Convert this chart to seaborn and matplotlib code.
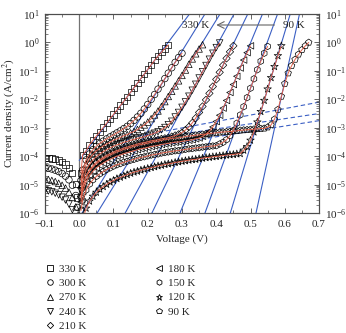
import numpy as np
import pandas as pd
import matplotlib
matplotlib.use("Agg")
import matplotlib.pyplot as plt
import seaborn as sns
from matplotlib.lines import Line2D
from matplotlib.ticker import LogLocator, MultipleLocator, FuncFormatter, NullFormatter

sns.set_theme(style="ticks")
plt.rcParams["font.family"] = ["Liberation Serif", "DejaVu Serif"]
plt.rcParams["mathtext.fontset"] = "stix"

# forward-bias voltage grid (V)
voltage = [0.005, 0.01, 0.02, 0.03, 0.04, 0.05, 0.06, 0.07, 0.08, 0.09, 0.10,
           0.11, 0.12, 0.13, 0.14, 0.15, 0.16, 0.17, 0.18, 0.19, 0.20,
           0.21, 0.22, 0.23, 0.24, 0.25, 0.26, 0.27, 0.28, 0.29, 0.30,
           0.31, 0.32, 0.33, 0.34, 0.35, 0.36, 0.37, 0.38, 0.39, 0.40,
           0.41, 0.42, 0.43, 0.44, 0.45, 0.46, 0.47, 0.48, 0.49, 0.50,
           0.51, 0.52, 0.53, 0.54, 0.55, 0.56, 0.57, 0.58, 0.59, 0.60,
           0.61, 0.62, 0.63, 0.64, 0.65, 0.66, 0.67]

# log10 of current density (A/cm^2)
logj_330 = [-4.60, -3.95, -3.81, -3.60, -3.44, -3.29, -3.14, -2.99, -2.84, -2.68, -2.53,
            -2.38, -2.22, -2.07, -1.91, -1.75, -1.59, -1.43, -1.27, -1.11, -0.95,
            -0.79, -0.63, -0.48, -0.34, -0.21, -0.09]
logj_300 = [-4.85, -4.49, -4.13, -3.92, -3.77, -3.65, -3.55, -3.47, -3.39, -3.32, -3.25,
            -3.18, -3.11, -3.03, -2.95, -2.85, -2.74, -2.62, -2.49, -2.34, -2.18,
            -2.00, -1.83, -1.64, -1.46, -1.27, -1.08, -0.89, -0.70, -0.53, -0.38]
logj_270 = [-5.01, -4.65, -4.29, -4.08, -3.93, -3.81, -3.72, -3.64, -3.57, -3.51, -3.44,
            -3.39, -3.34, -3.28, -3.24, -3.18, -3.13, -3.06, -2.98, -2.90, -2.80,
            -2.68, -2.55, -2.41, -2.25, -2.08, -1.90, -1.72, -1.53, -1.35, -1.16,
            -0.97, -0.77, -0.58, -0.40, -0.23, -0.08]
logj_240 = [-5.21, -4.85, -4.49, -4.28, -4.13, -4.01, -3.92, -3.84, -3.77, -3.71, -3.65,
            -3.60, -3.56, -3.51, -3.48, -3.44, -3.41, -3.37, -3.34, -3.32, -3.27,
            -3.23, -3.19, -3.14, -3.07, -2.99, -2.89, -2.77, -2.62, -2.46, -2.28,
            -2.09, -1.89, -1.68, -1.47, -1.25, -1.03, -0.81, -0.59, -0.38, -0.18,
            -0.02]
logj_210 = [-5.41, -5.05, -4.69, -4.48, -4.33, -4.21, -4.12, -4.04, -3.97, -3.91, -3.85,
            -3.80, -3.76, -3.71, -3.68, -3.64, -3.61, -3.57, -3.54, -3.52, -3.49,
            -3.46, -3.44, -3.42, -3.39, -3.37, -3.35, -3.31, -3.27, -3.23, -3.17,
            -3.08, -2.97, -2.83, -2.66, -2.46, -2.25, -2.02, -1.79, -1.55, -1.30,
            -1.05, -0.80, -0.56, -0.33, -0.12]
logj_180 = [-5.61, -5.25, -4.89, -4.68, -4.53, -4.41, -4.32, -4.24, -4.17, -4.11, -4.05,
            -4.00, -3.96, -3.91, -3.88, -3.84, -3.81, -3.77, -3.74, -3.72, -3.69,
            -3.66, -3.64, -3.62, -3.59, -3.57, -3.55, -3.53, -3.51, -3.50, -3.48,
            -3.46, -3.44, -3.42, -3.39, -3.36, -3.30, -3.23, -3.12, -2.97, -2.78,
            -2.56, -2.31, -2.04, -1.76, -1.48, -1.19, -0.90, -0.62, -0.36, -0.12]
logj_150 = [-5.91, -5.55, -5.19, -4.98, -4.83, -4.71, -4.62, -4.54, -4.47, -4.41, -4.35,
            -4.30, -4.26, -4.21, -4.18, -4.14, -4.11, -4.07, -4.04, -4.02, -3.99,
            -3.96, -3.94, -3.92, -3.89, -3.87, -3.85, -3.83, -3.81, -3.80, -3.78,
            -3.76, -3.74, -3.73, -3.71, -3.70, -3.68, -3.67, -3.65, -3.64, -3.63,
            -3.57, -3.51, -3.42, -3.28, -3.09, -2.84, -2.55, -2.26, -1.94, -1.61,
            -1.28, -0.96, -0.66, -0.38, -0.14]
logj_120 = [-6.60, -6.25, -5.83, -5.58, -5.41, -5.27, -5.16, -5.07, -4.99, -4.91, -4.85,
            -4.79, -4.74, -4.69, -4.65, -4.60, -4.56, -4.53, -4.49, -4.46, -4.43,
            -4.40, -4.37, -4.34, -4.32, -4.29, -4.27, -4.25, -4.22, -4.20, -4.18,
            -4.16, -4.14, -4.12, -4.11, -4.09, -4.07, -4.05, -4.04, -4.02, -4.01,
            -3.99, -3.98, -3.96, -3.95, -3.94, -3.92, -3.91, -3.79, -3.66, -3.44,
            -3.15, -2.80, -2.43, -2.04, -1.64, -1.24, -0.85, -0.47, -0.12]
logj_90 = [-5.46, -5.10, -4.74, -4.53, -4.38, -4.26, -4.17, -4.09, -4.02, -3.96, -3.90,
           -3.85, -3.81, -3.76, -3.73, -3.69, -3.66, -3.62, -3.59, -3.57, -3.54,
           -3.51, -3.49, -3.47, -3.44, -3.42, -3.40, -3.38, -3.36, -3.35, -3.33,
           -3.31, -3.29, -3.28, -3.26, -3.25, -3.23, -3.22, -3.20, -3.19, -3.18,
           -3.16, -3.15, -3.14, -3.13, -3.12, -3.11, -3.09, -3.08, -3.07, -3.06,
           -3.05, -3.04, -3.03, -3.02, -2.98, -2.90, -2.70, -2.36, -1.90, -1.45,
           -1.08, -0.82, -0.60, -0.42, -0.26, -0.12, 0.00]

# reverse bias |J|
v_neg = [-0.10, -0.09, -0.08, -0.07, -0.06, -0.05, -0.04, -0.03, -0.02, -0.01, -0.005]
neg_330 = [-4.05, -4.06, -4.08, -4.11, -4.15, -4.21, -4.29, -4.41, -4.60, -4.98, -5.45]
neg_300 = [-4.40, -4.42, -4.45, -4.49, -4.54, -4.61, -4.70, -4.83, -5.02, -5.38, -5.80]
neg_270 = [-4.80, -4.82, -4.85, -4.89, -4.95, -5.02, -5.12, -5.26, -5.45, -5.78, -6.10]
neg_240 = [-5.20, -5.22, -5.25, -5.30, -5.36, -5.44, -5.54, -5.68, -5.88, -6.15, -6.50]

temps = ["330 K", "300 K", "270 K", "240 K", "210 K", "180 K", "150 K", "120 K", "90 K"]
forward = [logj_330, logj_300, logj_270, logj_240, logj_210, logj_180, logj_150, logj_120, logj_90]
reverse = [neg_330, neg_300, neg_270, neg_240]
markers = ["s", "o", "^", "v", "D", "<", "h", "*", "p"]
msizes = [20, 22, 22, 22, 14, 22, 22, 32, 24]

# diode fit lines: (V start, log J start, V end, log J end)
fit_v0 = [0.0, 0.008, 0.052, 0.134, 0.212, 0.294, 0.367, 0.441, 0.516]
fit_j0 = [-4.15, -6, -6, -6, -6, -6, -6, -6, -6]
fit_v1 = [0.322, 0.367, 0.411, 0.452, 0.492, 0.535, 0.579, 0.616, 0.643]
fit_j1 = [1, 1, 1, 1, 1, 1, 1, 1, 1]

# dashed (shunt) lines
dash_v0 = [0.17, 0.20, 0.25]
dash_j0 = [-3.30, -3.40, -3.60]
dash_v1 = [0.70, 0.70, 0.70]
dash_j1 = [-2.10, -2.50, -2.75]

red = "#e0604a"
blue = "#3b5fc4"

fig = plt.figure(figsize=(3.46, 3.33), dpi=100)
ax = fig.add_axes([0.130, 0.360, 0.792, 0.598])
ax.set_yscale("log")

for a, b, c, d in zip(fit_v0, fit_j0, fit_v1, fit_j1):
    ax.plot([a, c], [10.0 ** b, 10.0 ** d], color=blue, lw=0.8, zorder=2)
for a, b, c, d in zip(dash_v0, dash_j0, dash_v1, dash_j1):
    ax.plot([a, c], [10.0 ** b, 10.0 ** d], color=blue, lw=0.8, ls=(0, (4, 2.5)), zorder=2)

ax.axvline(0, color="0.45", lw=0.9, zorder=1)

for lab, lj, m, sz in zip(temps, forward, markers, msizes):
    df = pd.DataFrame({"V": voltage[:len(lj)], "J": 10.0 ** np.array(lj)})
    sns.scatterplot(data=df, x="V", y="J", marker=m, s=sz, facecolor="none",
                    edgecolor="black", linewidth=0.5, ax=ax, zorder=3)
    sns.lineplot(data=df, x="V", y="J", color=red, lw=0.7, ax=ax, zorder=4,
                 sort=False, estimator=None)

for lj, m, sz in zip(reverse, markers, msizes):
    df = pd.DataFrame({"V": v_neg, "J": 10.0 ** np.array(lj)})
    sns.scatterplot(data=df, x="V", y="J", marker=m, s=sz, facecolor="none",
                    edgecolor="black", linewidth=0.5, ax=ax, zorder=3)

ax.set_xlim(-0.1, 0.7)
ax.set_ylim(1e-6, 1e1)
ax.xaxis.set_major_locator(MultipleLocator(0.1))
ax.xaxis.set_minor_locator(MultipleLocator(0.05))
ax.xaxis.set_major_formatter(FuncFormatter(lambda x, p: ("%.1f" % x).replace("-", "\u2212")))
ax.yaxis.set_major_locator(LogLocator(base=10, numticks=10))
ax.yaxis.set_minor_locator(LogLocator(base=10, subs=np.arange(2, 10), numticks=20))
ax.yaxis.set_minor_formatter(NullFormatter())
ax.tick_params(which="both", direction="in", top=True, right=False, labelsize=8,
               color="0.3")
ax.tick_params(axis="x", pad=5)
ax.tick_params(axis="y", pad=4)
ax.tick_params(which="major", length=3.5, width=0.6)
ax.tick_params(which="minor", length=2, width=0.5)

ax2 = ax.twinx()
ax2.set_yscale("log")
ax2.set_ylim(1e-6, 1e1)
ax2.yaxis.set_major_locator(LogLocator(base=10, numticks=10))
ax2.yaxis.set_minor_locator(LogLocator(base=10, subs=np.arange(2, 10), numticks=20))
ax2.yaxis.set_minor_formatter(NullFormatter())
ax2.tick_params(which="both", direction="in", labelsize=8, color="0.3", pad=4)
ax2.tick_params(which="major", length=3.5, width=0.6)
ax2.tick_params(which="minor", length=2, width=0.5)

for a in (ax, ax2):
    for s in a.spines.values():
        s.set_color("0.3")
        s.set_linewidth(0.8)

ax.set_xlabel("Voltage (V)", fontsize=8, labelpad=4)
ax.set_ylabel("Current density (A/cm$^2$)", fontsize=8, labelpad=1)

# temperature-direction annotation
ax.annotate("", xy=(0.392, 4.1), xytext=(0.578, 4.1),
            arrowprops=dict(arrowstyle="->", color="0.4", lw=0.8))
ax.text(0.379, 4.1, "330 K", ha="right", va="center", fontsize=8)
ax.text(0.595, 4.1, "90 K", ha="left", va="center", fontsize=8)

handles = [Line2D([], [], marker=m, ls="none", mfc="none", mec="black", mew=0.6,
                  ms=4 if m not in ("*", "D") else (5 if m == "*" else 3.2))
           for m in markers]
fig.legend(handles, temps, ncol=2, loc="upper left", bbox_to_anchor=(0.128, 0.208),
           frameon=False, fontsize=8, handlelength=1.0, handletextpad=0.35,
           columnspacing=6.0, labelspacing=0.42, borderpad=0, borderaxespad=0)

fig.savefig("out.png", dpi=100)
